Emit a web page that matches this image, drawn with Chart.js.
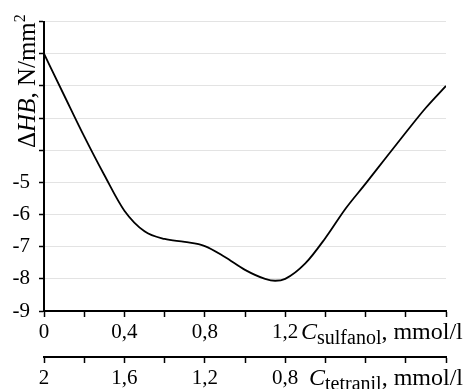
<!DOCTYPE html>
<html>
<head>
<meta charset="utf-8">
<script src="https://cdn.jsdelivr.net/npm/chart.js@4.4.1/dist/chart.umd.min.js"></script>
<style>
  html, body { margin: 0; padding: 0; background: #fff; }
  #chart { display: block; }
</style>
</head>
<body>
<canvas id="chart" width="464" height="389"></canvas>
<script>
// Sulfanol concentration (mmol/l) and hardness change dHB (N/mm2)
const sulfanol = [0, 0.1, 0.2, 0.3, 0.4, 0.5, 0.6, 0.7, 0.8, 0.9, 1.0, 1.1, 1.15, 1.2, 1.3, 1.4, 1.5, 1.6, 1.7, 1.8, 1.9, 2.0];
const deltaHB = [-1, -2.29, -3.57, -4.77, -5.88, -6.52, -6.76, -6.85, -6.98, -7.32, -7.72, -8.0, -8.06, -8.0, -7.52, -6.73, -5.82, -5.04, -4.24, -3.45, -2.68, -2.0];

// tick labels that are actually printed
const yTickLabels = [-5, -6, -7, -8, -9];
const sulfanolTicks = [0, 0.4, 0.8, 1.2];
const tetranilTicks = [2, 1.6, 1.2, 0.8];

const FONT = "'Liberation Serif', 'Times New Roman', serif";

function hasTick(list, v) {
    return list.some(t => Math.abs(t - v) < 1e-6);
}
function comma(v) {
    return String(Math.round(v * 10) / 10).replace(".", ",");
}

// Axis titles with italic letters, sub- and superscripts
const titlesPlugin = {
    id: "titles",
    afterDraw(chart) {
        const ctx = chart.ctx;
        ctx.save();
        ctx.fillStyle = "#000";
        ctx.textBaseline = "alphabetic";
        ctx.textAlign = "left";

        // y title, rotated
        ctx.save();
        ctx.translate(35, 148);
        ctx.rotate(-Math.PI / 2);
        let x = 0;
        const parts = [
            ["Δ", "25px", "", 0],
            ["HB", "25px", "italic ", 0],
            [", N/mm", "25px", "", 0],
            ["2", "16px", "", -10]
        ];
        parts.forEach(p => {
            ctx.font = p[2] + p[1] + " " + FONT;
            ctx.fillText(p[0], x, p[3]);
            x += ctx.measureText(p[0]).width;
        });
        ctx.restore();

        // x titles
        function xTitle(x0, y0, sub) {
            let x = x0;
            ctx.font = "italic 24px " + FONT;
            ctx.fillText("C", x, y0);
            x += ctx.measureText("C").width;
            ctx.font = "20px " + FONT;
            ctx.fillText(sub, x, y0 + 5);
            x += ctx.measureText(sub).width;
            ctx.font = "24px " + FONT;
            ctx.fillText(", mmol/l", x, y0);
        }
        xTitle(301, 339, "sulfanol");
        xTitle(309, 385, "tetranil");
        ctx.restore();
    }
};

const ctx = document.getElementById("chart").getContext("2d");
new Chart(ctx, {
    type: "line",
    data: {
        datasets: [{
            data: sulfanol.map((v, i) => ({ x: v, y: deltaHB[i] })),
            borderColor: "#000",
            borderWidth: 1.8,
            pointRadius: 0,
            fill: false,
            cubicInterpolationMode: "monotone"
        }]
    },
    options: {
        responsive: false,
        animation: false,
        layout: { padding: { top: 17, right: 18, left: 0, bottom: 0 } },
        plugins: { legend: { display: false }, tooltip: { enabled: false } },
        scales: {
            x: {
                type: "linear",
                position: "bottom",
                weight: 0,
                min: 0,
                max: 2,
                afterFit(scale) { scale.height = 46; },
                border: { display: true, color: "#000", width: 2 },
                grid: { drawOnChartArea: false, drawTicks: true, tickLength: 6, tickColor: "#000", tickWidth: 1.5 },
                ticks: {
                    stepSize: 0.2,
                    padding: 3,
                    maxRotation: 0,
                    autoSkip: false,
                    color: "#000",
                    font: { family: FONT, size: 21 },
                    callback: v => hasTick(sulfanolTicks, v) ? comma(v) : ""
                }
            },
            x2: {
                type: "linear",
                position: "bottom",
                weight: 1,
                min: 0,
                max: 2,
                reverse: true,
                afterFit(scale) { scale.height = 32; },
                border: { display: true, color: "#000", width: 2 },
                grid: { drawOnChartArea: false, drawTicks: true, tickLength: 6, tickColor: "#000", tickWidth: 1.5 },
                ticks: {
                    stepSize: 0.2,
                    padding: 3,
                    maxRotation: 0,
                    autoSkip: false,
                    color: "#000",
                    font: { family: FONT, size: 21 },
                    callback: v => hasTick(tetranilTicks, v) ? comma(v) : ""
                }
            },
            y: {
                min: -9,
                max: 0,
                afterFit(scale) { scale.width = 44; },
                border: { display: true, color: "#000", width: 2 },
                grid: { color: "#e3e3e3", lineWidth: 1, drawTicks: true, tickLength: 5, tickColor: "#000", tickWidth: 1.5 },
                ticks: {
                    stepSize: 1,
                    padding: 9,
                    color: "#000",
                    font: { family: FONT, size: 21 },
                    callback: v => hasTick(yTickLabels, v) ? String(v) : ""
                }
            }
        }
    },
    plugins: [titlesPlugin]
});
</script>
</body>
</html>
